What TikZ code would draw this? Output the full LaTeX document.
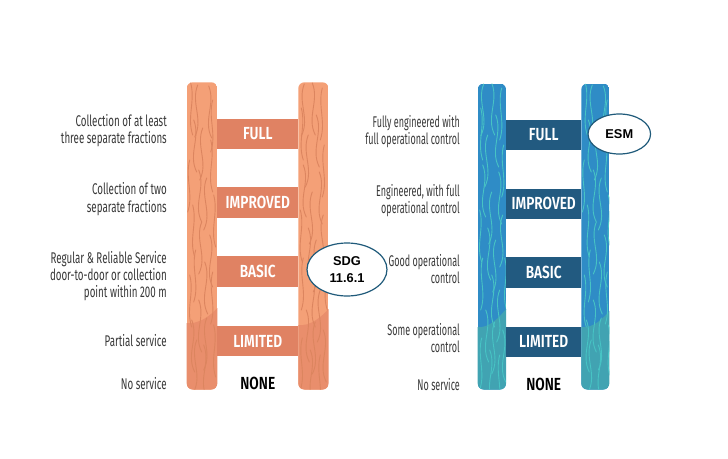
\documentclass[tikz,border=0pt]{standalone}
\usepackage{fontspec}
\usetikzlibrary{shapes.geometric}
\newfontfamily\labelfont[FakeStretch=0.63]{Fira Sans}
\newfontfamily\labelfontB[FakeStretch=0.58]{Fira Sans}
\newfontfamily\rungfont[FakeStretch=0.78]{Fira Sans SemiBold}
\newfontfamily\tagfont{Liberation Sans}
\definecolor{orangewood}{HTML}{F4A077}
\definecolor{orangelow}{HTML}{E98E6C}
\definecolor{orangegrain}{HTML}{DC855F}
\definecolor{orangerung}{HTML}{E08263}
\definecolor{bluewood}{HTML}{2F8CC6}
\definecolor{bluelow}{HTML}{41A3B2}
\definecolor{bluegrain}{HTML}{47C3C4}
\definecolor{bluerung}{HTML}{225A80}
\definecolor{tagline}{HTML}{1F5A7A}
\newcommand{\grainA}{4/83/2,11/85/-3,22/86/3,26/100/-2,7/120/3,16/128/-3,24/140/2,3/160/-2,12/170/3,20/178/-3,27/195/2,6/205/2,15/222/-3,23/235/3,9/250/-2,18/262/3,3/275/2,26/272/-2,12/300/3,5/320/3,20/318/-3,27/325/2,10/340/-3,17/345/3}
\newcommand{\grainB}{6/84/-3,14/83/3,24/88/-2,3/108/2,18/115/3,10/135/-3,26/145/-2,5/165/3,21/172/3,14/192/-3,2/210/2,25/215/-3,10/228/3,18/240/-3,5/258/-2,27/258/2,14/275/3,22/290/-3,8/310/3,17/322/-3,25/330/3,4/338/-2,12/350/3,22/355/-2}
% one rail: left, right, top, shade at left, shade at right, colours, grain list
\newcommand{\railwood}[9]{
\begin{scope}
\clip[rounded corners=6] (#1,#3) rectangle (#2,389.5);
\fill[#6] (#1,#3) rectangle (#2,389.5);
\fill[#7] (#1-1,#4) .. controls (#1+12,#4+2) and (#2-6,#5+8) .. (#2+1,#5) -- (#2+1,390) -- (#1-1,390) -- cycle;
\foreach \x/\y/\d in #9 {
\draw[#8,line width=0.9,line cap=round] ({#1+\x},\y) .. controls ({#1+\x+2.4*\d},{\y+18}) and ({#1+\x-2*\d},{\y+34}) .. ({#1+\x+\d},{\y+52});
}
\end{scope}
}
\tikzset{
textlabel/.style={anchor=east,align=right,text=black!78,font=\labelfont\fontsize{15.5}{17.3}\selectfont,inner sep=0},
textlabelB/.style={textlabel,font=\labelfontB\fontsize{15.5}{17.3}\selectfont},
rungorange/.style={fill=orangerung,minimum width=81,minimum height=30.6,inner sep=0,text=white,font=\rungfont\fontsize{17.5}{18}\selectfont},
rungblue/.style={rungorange,fill=bluerung,minimum width=75.5},
nonelabel/.style={text=black,inner sep=0,font=\rungfont\fontsize{17.5}{18}\selectfont},
tagshape/.style={ellipse,draw=tagline,line width=1.2,fill=white,inner sep=0,align=center,text=black,font=\tagfont\bfseries\fontsize{12.8}{17}\selectfont}
}
\begin{document}
\begin{tikzpicture}[x=1pt,y=-1pt]
\useasboundingbox (0,0) rectangle (728,458);
% orange ladder
\railwood{186.7}{217.3}{82.3}{323}{307}{orangewood}{orangelow}{orangegrain}{\grainA}
\railwood{298.3}{328.5}{82.3}{325}{308}{orangewood}{orangelow}{orangegrain}{\grainB}
\node[rungorange] (fullA) at (257.8,133.8) {FULL};
\node[rungorange] (improvedA) at (257.8,202.6) {IMPROVED};
\node[rungorange] (basicA) at (257.8,271.3) {BASIC};
\node[rungorange] (limitedA) at (257.8,341) {LIMITED};
\node[nonelabel] (noneA) at (257.8,383.3) {NONE};
\node[textlabel] (textfullA) at (167,130.5) {Collection of at least\\three separate fractions};
\node[textlabel] (textimprovedA) at (167,199) {Collection of two\\separate fractions};
\node[textlabel] (textbasicA) at (167,276.3) {Regular \& Reliable Service\\door-to-door or collection\\point within 200 m};
\node[textlabel] (textlimitedA) at (167,340.7) {Partial service};
\node[textlabel] (textnoneA) at (167,384) {No service};
% blue ladder
\railwood{477.7}{506}{83.5}{327}{308}{bluewood}{bluelow}{bluegrain}{\grainB}
\railwood{581.3}{609.3}{83.5}{327}{310}{bluewood}{bluelow}{bluegrain}{\grainA}
\node[rungblue] (fullB) at (543.7,134.8) {FULL};
\node[rungblue] (improvedB) at (543.7,203.8) {IMPROVED};
\node[rungblue] (basicB) at (543.7,272.4) {BASIC};
\node[rungblue] (limitedB) at (543.7,341.8) {LIMITED};
\node[nonelabel] (noneB) at (543.7,384) {NONE};
\node[textlabelB] (textfullB) at (460,131.5) {Fully engineered with\\full operational control};
\node[textlabelB] (textimprovedB) at (460,200.3) {Engineered, with full\\operational control};
\node[textlabelB] (textbasicB) at (460,269) {Good operational\\control};
\node[textlabelB] (textlimitedB) at (460,337.7) {Some operational\\control};
\node[textlabelB] (textnoneB) at (460,385) {No service};
% tags
\node[tagshape,minimum width=80,minimum height=53] (sdg) at (347,269.5) {SDG\\11.6.1};
\node[tagshape,minimum width=62.5,minimum height=40] (esm) at (619.3,134) {ESM};
\end{tikzpicture}
\end{document}
